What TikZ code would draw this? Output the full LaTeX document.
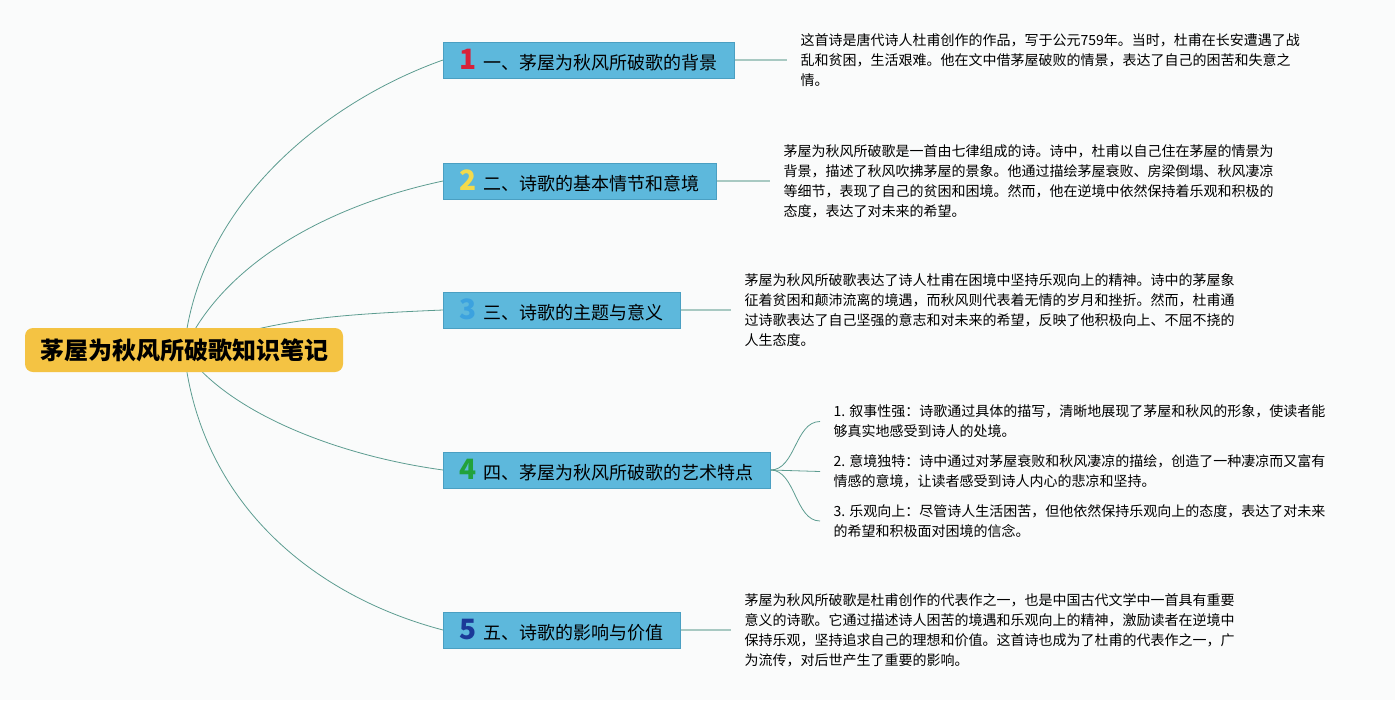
\documentclass[tikz,border=0pt]{standalone}
\usepackage{fontspec}
\setmainfont{Noto Sans CJK SC}
\usetikzlibrary{backgrounds}

\definecolor{bgcol}{HTML}{FAFBFB}
\definecolor{rootfill}{HTML}{F4C343}
\definecolor{boxfill}{HTML}{5DB8DC}
\definecolor{boxline}{HTML}{4A9FC2}
\definecolor{linkcol}{HTML}{5C9C90}
\definecolor{desccol}{HTML}{A8C9C2}
\definecolor{numa}{HTML}{D7203A}
\definecolor{numb}{HTML}{F3DA4C}
\definecolor{numc}{HTML}{3CA2DF}
\definecolor{numd}{HTML}{22A23C}
\definecolor{nume}{HTML}{1B3A98}

\newcommand\bnum[2]{{\fontsize{21}{21}\selectfont\bfseries\color{#1}#2}\hspace{5pt}}

\begin{document}
\begin{tikzpicture}[x=0.75pt,y=-0.75pt,
	root/.style={fill=rootfill,rounded corners=6pt,minimum width=238.5pt,minimum height=33pt,inner sep=0pt,font=\fontsize{18}{18}\selectfont\bfseries},
	branch/.style={draw=boxline,fill=boxfill,anchor=west,minimum height=27pt,inner ysep=0pt,inner xsep=12.5pt,font=\fontsize{13.5}{13.5}\selectfont},
	desc/.style={anchor=west,align=left,inner xsep=10pt,inner ysep=0pt,font=\fontsize{10.5}{15}\selectfont},
	link/.style={draw=linkcol,line width=0.6pt},
	descline/.style={draw=desccol,line width=0.9pt}]
			\useasboundingbox (0,0) rectangle (1395,700);
			\node[root] (root) at (184,350) {茅屋为秋风所破歌知识笔记};
			\node[branch] (b1) at (443,60) {\bnum{numa}{1}一、茅屋为秋风所破歌的背景};
			\node[branch] (b2) at (443,181) {\bnum{numb}{2}二、诗歌的基本情节和意境};
			\node[branch] (b3) at (443,310) {\bnum{numc}{3}三、诗歌的主题与意义};
			\node[branch] (b4) at (443,470) {\bnum{numd}{4}四、茅屋为秋风所破歌的艺术特点};
			\node[branch] (b5) at (443,630) {\bnum{nume}{5}五、诗歌的影响与价值};
			\node[desc] (t1) at (787,60) {这首诗是唐代诗人杜甫创作的作品，写于公元759年。当时，杜甫在长安遭遇了战\\乱和贫困，生活艰难。他在文中借茅屋破败的情景，表达了自己的困苦和失意之\\情。};
			\node[desc] (t2) at (770,181) {茅屋为秋风所破歌是一首由七律组成的诗。诗中，杜甫以自己住在茅屋的情景为\\背景，描述了秋风吹拂茅屋的景象。他通过描绘茅屋衰败、房梁倒塌、秋风凄凉\\等细节，表现了自己的贫困和困境。然而，他在逆境中依然保持着乐观和积极的\\态度，表达了对未来的希望。};
			\node[desc] (t3) at (731,310) {茅屋为秋风所破歌表达了诗人杜甫在困境中坚持乐观向上的精神。诗中的茅屋象\\征着贫困和颠沛流离的境遇，而秋风则代表着无情的岁月和挫折。然而，杜甫通\\过诗歌表达了自己坚强的意志和对未来的希望，反映了他积极向上、不屈不挠的\\人生态度。};
			\node[desc] (s1) at (820,421.5) {1. 叙事性强：诗歌通过具体的描写，清晰地展现了茅屋和秋风的形象，使读者能\\够真实地感受到诗人的处境。};
			\node[desc] (s2) at (820,471.5) {2. 意境独特：诗中通过对茅屋衰败和秋风凄凉的描绘，创造了一种凄凉而又富有\\情感的意境，让读者感受到诗人内心的悲凉和坚持。};
			\node[desc] (s3) at (820,521) {3. 乐观向上：尽管诗人生活困苦，但他依然保持乐观向上的态度，表达了对未来\\的希望和积极面对困境的信念。};
			\node[desc] (t5) at (731,630) {茅屋为秋风所破歌是杜甫创作的代表作之一，也是中国古代文学中一首具有重要\\意义的诗歌。它通过描述诗人困苦的境遇和乐观向上的精神，激励读者在逆境中\\保持乐观，坚持追求自己的理想和价值。这首诗也成为了杜甫的代表作之一，广\\为流传，对后世产生了重要的影响。};
			\begin{scope}[on background layer]
				\fill[bgcol] (0,0) rectangle (1395,700);
				\draw[link] (root.center) .. controls +(15,-150) and +(-113,40) .. (b1.west);
				\draw[link] (root.center) .. controls +(40,-88) and +(-113,24) .. (b2.west);
				\draw[link] (root.center) .. controls +(90,-30) and +(-120,5) .. (b3.west);
				\draw[link] (root.center) .. controls +(40,60) and +(-110,-15) .. (b4.west);
				\draw[link] (root.center) .. controls +(15,150) and +(-133,-35) .. (b5.west);
			\end{scope}
			\draw[descline] (b1.east) -- (t1.west);
			\draw[descline] (b2.east) -- (t2.west);
			\draw[descline] (b3.east) -- (t3.west);
			\draw[descline] (b5.east) -- (t5.west);
			\draw[link] (b4.east) .. controls +(25,0) and +(-25,0) .. (s1.west);
			\draw[link] (b4.east) -- (s2.west);
			\draw[link] (b4.east) .. controls +(25,0) and +(-25,0) .. (s3.west);
		\end{tikzpicture}
\end{document}
